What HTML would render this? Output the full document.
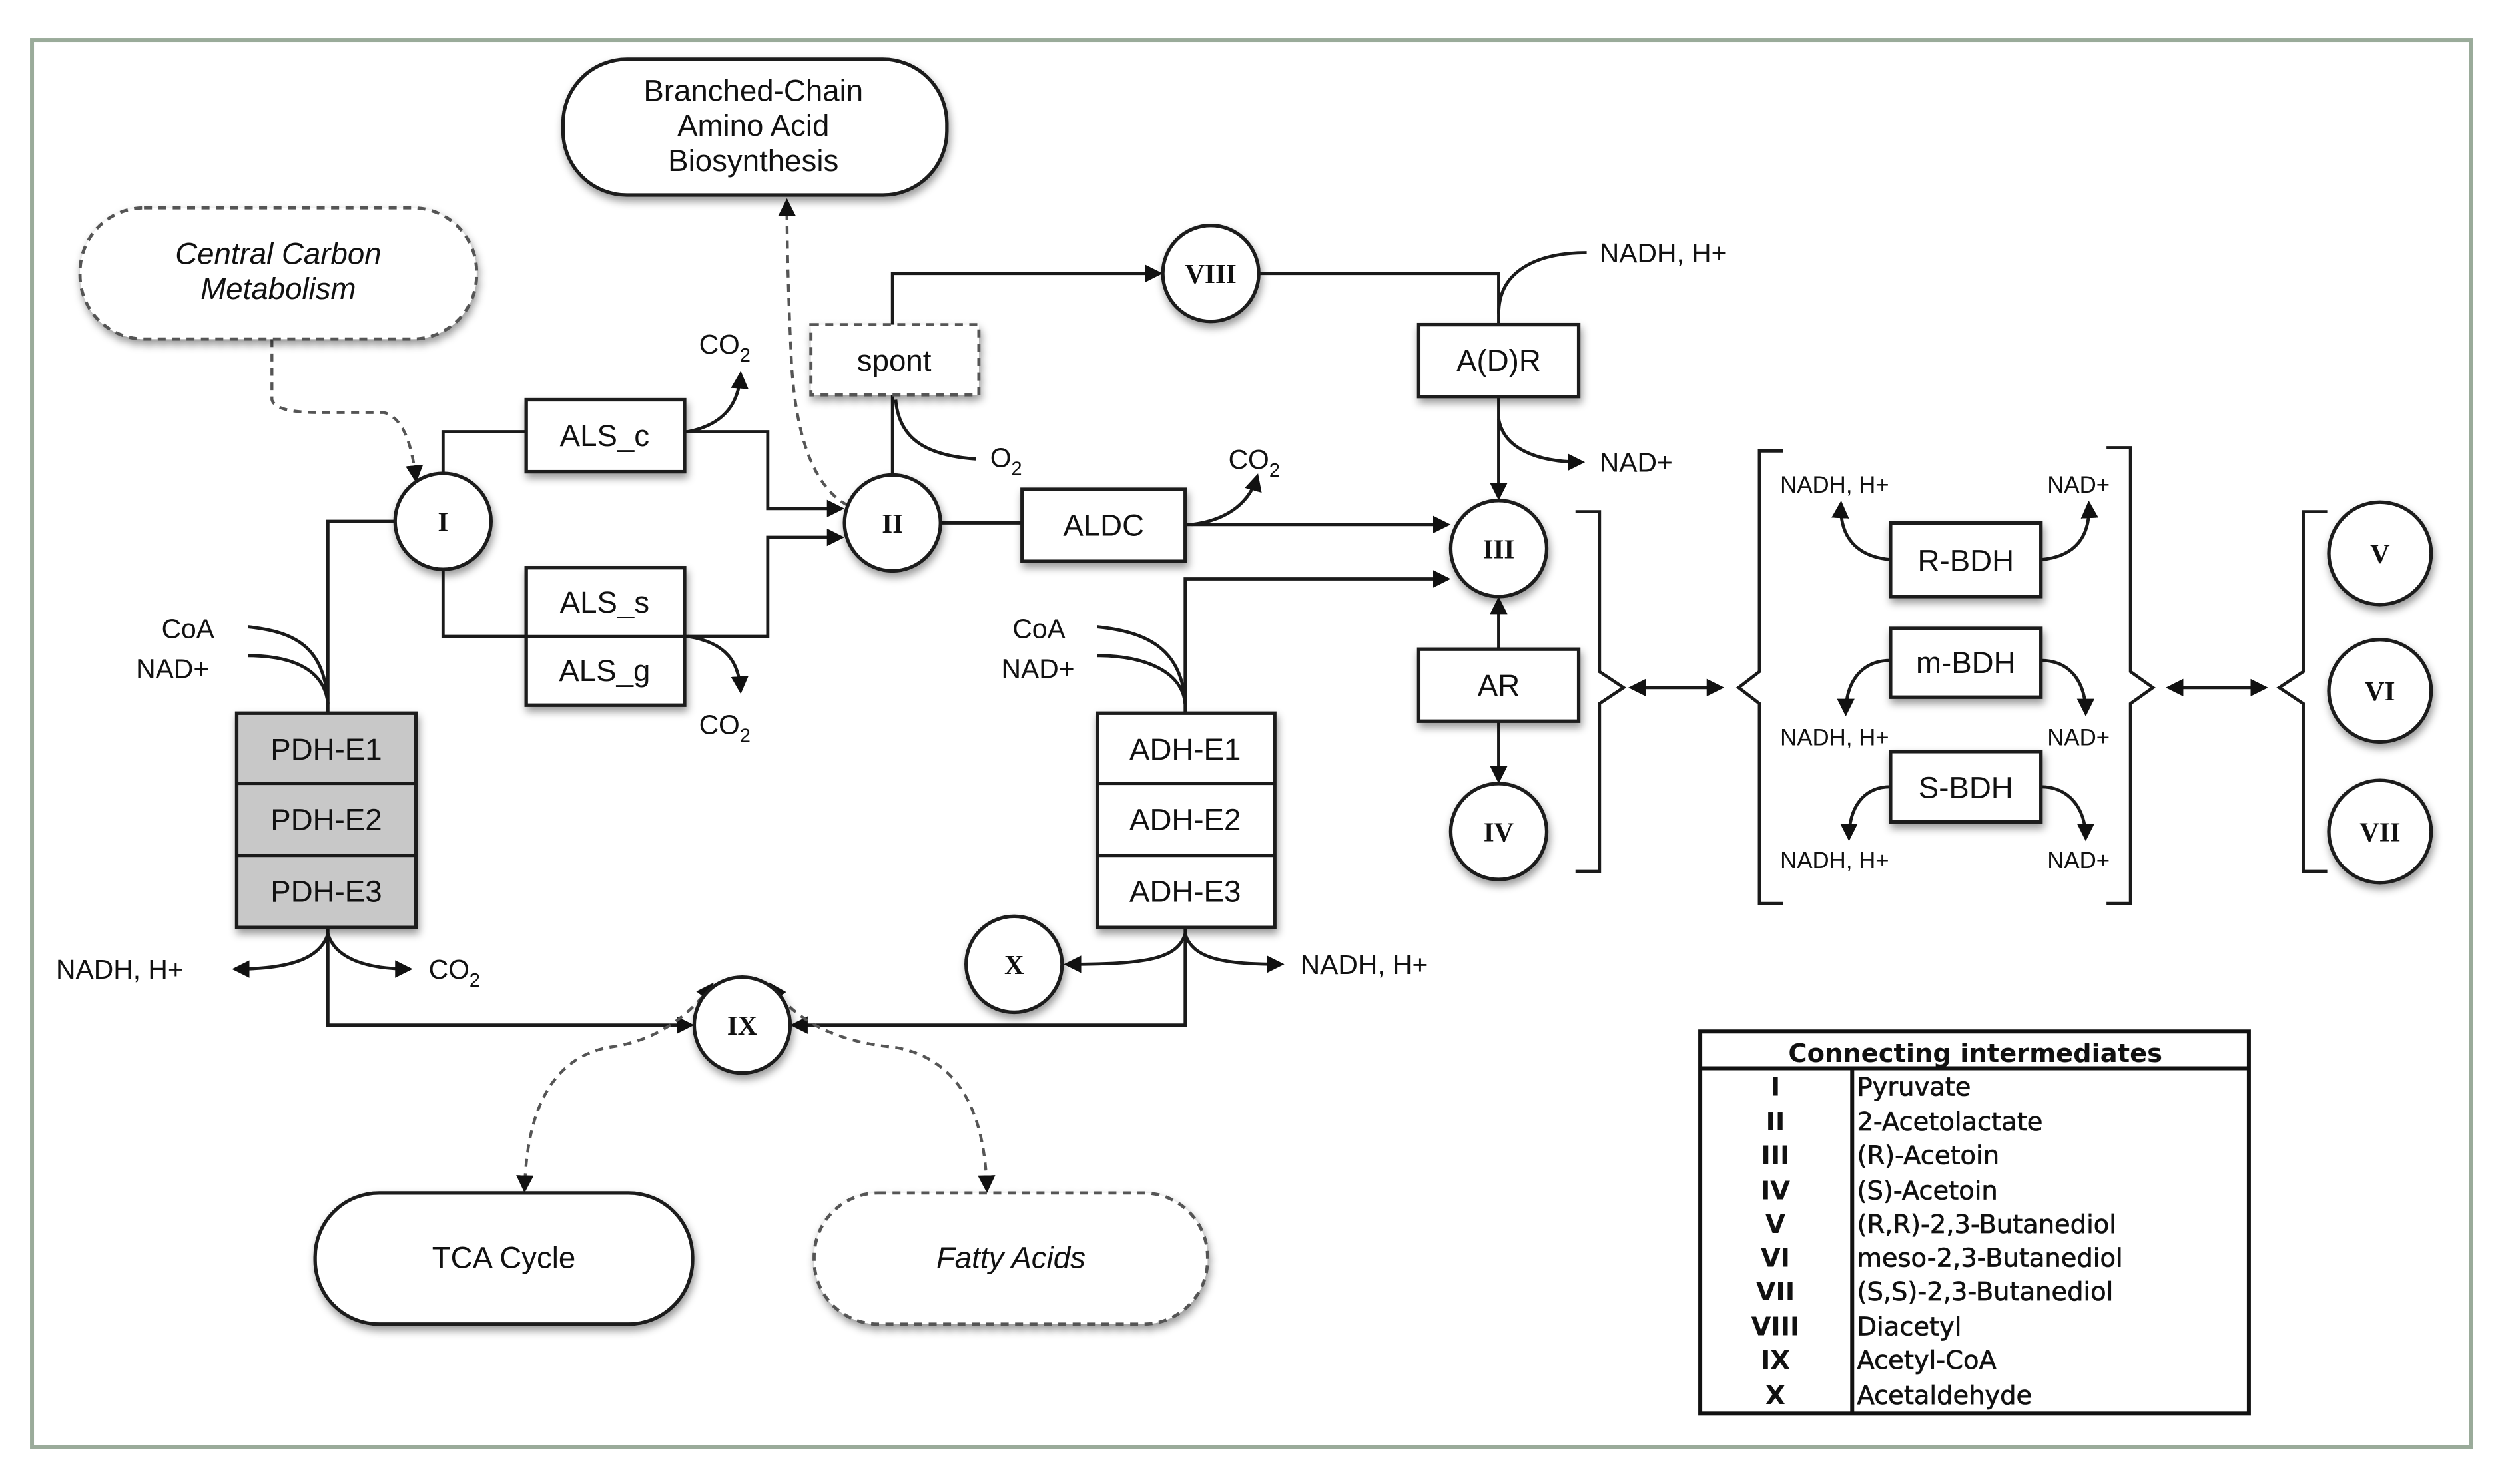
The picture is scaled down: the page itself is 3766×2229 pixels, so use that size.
<!DOCTYPE html>
<html><head><meta charset="utf-8"><style>
html,body{margin:0;padding:0;background:#fff;}
svg{display:block;}
text{font-family:"Liberation Sans",sans-serif;fill:#111;}
.s{font-family:"Liberation Serif",serif;font-weight:bold;}
.t{font-family:"DejaVu Sans","Liberation Sans",sans-serif;}
</style></head><body>
<svg width="3766" height="2229" viewBox="0 0 1568 928" preserveAspectRatio="none" xmlns="http://www.w3.org/2000/svg">
<defs>
<marker id="a" markerWidth="11" markerHeight="11" refX="9" refY="5.5" orient="auto" markerUnits="userSpaceOnUse"><path d="M0,0 L11,5.5 L0,11 z" fill="#111"/></marker>
<marker id="b" markerWidth="11" markerHeight="11" refX="2" refY="5.5" orient="auto" markerUnits="userSpaceOnUse"><path d="M11,0 L0,5.5 L11,11 z" fill="#111"/></marker>
<filter id="sh" x="-20%" y="-20%" width="150%" height="160%"><feDropShadow dx="1" dy="3" stdDeviation="2.5" flood-color="#000" flood-opacity="0.4"/></filter>
</defs>
<rect x="0" y="0" width="1568" height="928" fill="#fff"/>
<rect x="20" y="25" width="1525" height="880" fill="#fff" stroke="#9aab9a" stroke-width="2.5"/>

<g fill="none" stroke="#1a1a1a" stroke-width="2">
<path d="M277,296 V270 H329"/>
<path d="M428,270 H480 V318 H526" marker-end="url(#a)"/>
<path d="M277,356 V398 H480 V336 H526" marker-end="url(#a)"/>
<path d="M430,270 C455,265 462,250 463,234" marker-end="url(#a)"/>
<path d="M430,398 C455,402 462,415 463,432" marker-end="url(#a)"/>
<path d="M247,326 H205 V446"/>
<path d="M155,392 C185,395 203,405 205,440"/>
<path d="M155,410 C185,410 203,420 205,440"/>
<path d="M205,580 V641 H432" marker-end="url(#a)"/>
<path d="M205,584 C200,600 180,606 147,606" marker-end="url(#a)"/>
<path d="M205,584 C210,600 230,606 256,606" marker-end="url(#a)"/>
<path d="M741,580 V641 H496" marker-end="url(#a)"/>
<path d="M741,584 C736,600 716,603 667,603" marker-end="url(#a)"/>
<path d="M741,584 C746,600 766,603 801,603" marker-end="url(#a)"/>
<path d="M741,446 V362 H905" marker-end="url(#a)"/>
<path d="M686,392 C716,395 739,405 741,440"/>
<path d="M686,410 C716,410 739,420 741,440"/>
<path d="M588,327 H639"/>
<path d="M741,328 H905" marker-end="url(#a)"/>
<path d="M745,328 C770,325 782,312 786,298" marker-end="url(#a)"/>
<path d="M558,297 V247"/>
<path d="M558,203 V171 H725" marker-end="url(#a)"/>
<path d="M560,250 C562,275 580,285 610,287"/>
<path d="M787,171 H937 V203"/>
<path d="M937,196 C937,170 960,158 992,158"/>
<path d="M937,248 V311" marker-end="url(#a)"/>
<path d="M937,262 C940,280 960,289 989,289" marker-end="url(#a)"/>
<path d="M937,406 V375" marker-end="url(#a)"/>
<path d="M937,451 V488" marker-end="url(#a)"/>
<path d="M985,320 H1000 V420 L1015,430 L1000,440 V545 H985"/>
<path d="M1020,430 H1076" marker-start="url(#b)" marker-end="url(#a)"/>
<path d="M1115,282 H1100 V420 L1087,430 L1100,440 V565 H1115"/>
<path d="M1317,280 H1332 V420 L1346,430 L1332,440 V565 H1317"/>
<path d="M1356,430 H1416" marker-start="url(#b)" marker-end="url(#a)"/>
<path d="M1455,320 H1440 V420 L1425,430 L1440,440 V545 H1455"/>
<path d="M1182,350 C1160,348 1150,335 1151,315" marker-end="url(#a)"/>
<path d="M1276,350 C1298,348 1307,335 1306,315" marker-end="url(#a)"/>
<path d="M1182,413 C1165,413 1154,425 1154,446" marker-end="url(#a)"/>
<path d="M1276,413 C1293,413 1304,425 1304,446" marker-end="url(#a)"/>
<path d="M1182,492 C1165,492 1156,505 1156,524" marker-end="url(#a)"/>
<path d="M1276,492 C1293,492 1304,505 1304,524" marker-end="url(#a)"/>
</g>
<g fill="none" stroke="#555" stroke-width="1.8" stroke-dasharray="5,4">
<path d="M170,212 V250 Q172,258 200,258 H240 Q256,262 260,300" marker-end="url(#a)"/>
<path d="M530,316 Q500,300 495,230 Q492,170 492,126" marker-end="url(#a)"/>
<path d="M445,616 Q420,650 380,655 Q330,665 328,744" marker-start="url(#b)" marker-end="url(#a)"/>
<path d="M482,616 Q505,650 560,655 Q615,665 617,744" marker-start="url(#b)" marker-end="url(#a)"/>
</g>

<g stroke="#1a1a1a" stroke-width="2.2" fill="#fff" filter="url(#sh)">
<rect x="352" y="37" width="240" height="85" rx="40"/>
<rect x="197" y="746" width="236" height="82" rx="40"/>
<rect x="329" y="250" width="99" height="45"/>
<rect x="329" y="355" width="99" height="86"/>
<rect x="639" y="306" width="102" height="45"/>
<rect x="887" y="203" width="100" height="45"/>
<rect x="887" y="406" width="100" height="45"/>
<rect x="1182" y="327" width="94" height="46"/>
<rect x="1182" y="393" width="94" height="43"/>
<rect x="1182" y="470" width="94" height="44"/>
<rect x="148" y="446" width="112" height="134" fill="#c8c8c8"/>
<rect x="686" y="446" width="111" height="134"/>
</g>
<g stroke="#555" stroke-width="2" fill="#fff" stroke-dasharray="5,4" filter="url(#sh)">
<rect x="50" y="130" width="248" height="82" rx="40"/>
<rect x="509" y="746" width="246" height="82" rx="40"/>
<rect x="507" y="203" width="105" height="44"/>
</g>
<g stroke="#1a1a1a" stroke-width="1.8">
<line x1="329" y1="398" x2="428" y2="398"/>
<line x1="148" y1="490" x2="260" y2="490"/><line x1="148" y1="535" x2="260" y2="535"/>
<line x1="686" y1="490" x2="797" y2="490"/><line x1="686" y1="535" x2="797" y2="535"/>
</g>
<g stroke="#1a1a1a" stroke-width="2.2" fill="#fff" filter="url(#sh)">
<circle cx="277" cy="326" r="30"/><circle cx="558" cy="327" r="30"/>
<circle cx="937" cy="343" r="30"/><circle cx="937" cy="520" r="30"/>
<circle cx="757" cy="171" r="30"/><circle cx="464" cy="641" r="30"/>
<circle cx="634" cy="603" r="30"/>
<circle cx="1488" cy="346" r="32"/><circle cx="1488" cy="432" r="32"/><circle cx="1488" cy="520" r="32"/>
</g>
<g font-size="17" text-anchor="middle">
<text x="277" y="332" class="s">I</text><text x="558" y="333" class="s">II</text>
<text x="937" y="349" class="s">III</text><text x="937" y="526" class="s">IV</text>
<text x="757" y="177" class="s">VIII</text><text x="464" y="647" class="s">IX</text>
<text x="634" y="609" class="s">X</text>
<text x="1488" y="352" class="s">V</text><text x="1488" y="438" class="s">VI</text><text x="1488" y="526" class="s">VII</text>
</g>
<g font-size="19" text-anchor="middle">
<text x="471" y="63">Branched-Chain</text><text x="471" y="85">Amino Acid</text><text x="471" y="107">Biosynthesis</text>
<text x="174" y="165" font-style="italic">Central Carbon</text><text x="174" y="187" font-style="italic">Metabolism</text>
<text x="315" y="793">TCA Cycle</text><text x="632" y="793" font-style="italic">Fatty Acids</text>
<text x="378" y="279">ALS_c</text><text x="378" y="383">ALS_s</text><text x="378" y="426">ALS_g</text>
<text x="559" y="232">spont</text><text x="690" y="335">ALDC</text>
<text x="937" y="232">A(D)R</text><text x="937" y="435">AR</text>
<text x="1229" y="357">R-BDH</text><text x="1229" y="421">m-BDH</text><text x="1229" y="499">S-BDH</text>
<text x="204" y="475">PDH-E1</text><text x="204" y="519">PDH-E2</text><text x="204" y="564">PDH-E3</text>
<text x="741" y="475">ADH-E1</text><text x="741" y="519">ADH-E2</text><text x="741" y="564">ADH-E3</text>
</g>
<g font-size="17">
<text x="437" y="221">CO<tspan font-size="12" dy="5">2</tspan></text>
<text x="437" y="459">CO<tspan font-size="12" dy="5">2</tspan></text>
<text x="268" y="612">CO<tspan font-size="12" dy="5">2</tspan></text>
<text x="768" y="293">CO<tspan font-size="12" dy="5">2</tspan></text>
<text x="619" y="292">O<tspan font-size="12" dy="5">2</tspan></text>
<text x="35" y="612">NADH, H+</text><text x="813" y="609">NADH, H+</text>
<text x="1000" y="164">NADH, H+</text><text x="1000" y="295">NAD+</text>
<text x="101" y="399">CoA</text><text x="85" y="424">NAD+</text>
<text x="633" y="399">CoA</text><text x="626" y="424">NAD+</text>
</g>
<g font-size="14.5">
<text x="1113" y="308">NADH, H+</text><text x="1280" y="308">NAD+</text>
<text x="1113" y="466">NADH, H+</text><text x="1280" y="466">NAD+</text>
<text x="1113" y="543">NADH, H+</text><text x="1280" y="543">NAD+</text>
</g>
<g fill="none" stroke="#111" stroke-width="2.5">
<rect x="1063" y="645" width="343" height="239"/>
<line x1="1063" y1="668" x2="1406" y2="668"/>
<line x1="1158" y1="668" x2="1158" y2="884"/>
</g>
<g font-size="16">
<text x="1235" y="664" text-anchor="middle" font-weight="bold" class="t">Connecting intermediates</text>
<g text-anchor="middle" font-weight="bold">
<text x="1110" y="685" class="t">I</text><text x="1110" y="707" class="t">II</text><text x="1110" y="728" class="t">III</text>
<text x="1110" y="750" class="t">IV</text><text x="1110" y="771" class="t">V</text><text x="1110" y="792" class="t">VI</text>
<text x="1110" y="813" class="t">VII</text><text x="1110" y="835" class="t">VIII</text><text x="1110" y="856" class="t">IX</text>
<text x="1110" y="878" class="t">X</text>
</g>
<g stroke="#111" stroke-width="0.3">
<text x="1161" y="685" class="t">Pyruvate</text><text x="1161" y="707" class="t">2-Acetolactate</text>
<text x="1161" y="728" class="t">(R)-Acetoin</text><text x="1161" y="750" class="t">(S)-Acetoin</text>
<text x="1161" y="771" class="t">(R,R)-2,3-Butanediol</text><text x="1161" y="792" class="t">meso-2,3-Butanediol</text>
<text x="1161" y="813" class="t">(S,S)-2,3-Butanediol</text><text x="1161" y="835" class="t">Diacetyl</text>
<text x="1161" y="856" class="t">Acetyl-CoA</text><text x="1161" y="878" class="t">Acetaldehyde</text>
</g>
</g>
</svg>
</body></html>
